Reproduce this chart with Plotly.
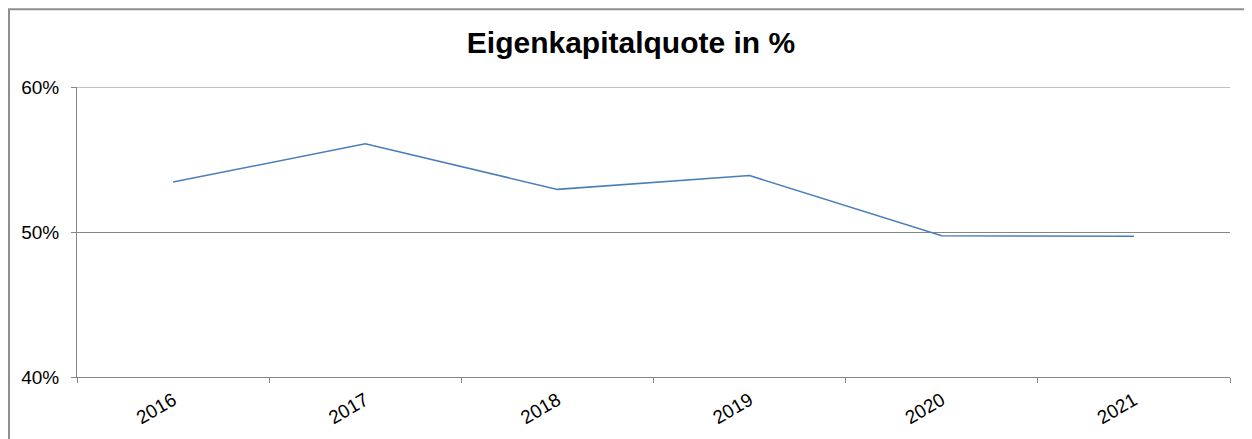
import plotly.graph_objects as go

years = ["2016", "2017", "2018", "2019", "2020", "2021"]
equity_ratio = [0.5345, 0.5608, 0.5294, 0.5389, 0.4974, 0.4971]
y_ticks = [0.40, 0.50, 0.60]
y_tick_labels = ["40%", "50%", "60%"]
title_text = "Eigenkapitalquote in %"

fig = go.Figure()
fig.add_trace(go.Scatter(
    x=years, y=equity_ratio, mode="lines",
    line=dict(color="#4A7EBB", width=1.5),
    showlegend=False,
))

# page body has an 8px margin, so the figure starts at (8, 8)
W, H = 1244, 431
ml, mr, mt, mb = 69, 22, 79, 61.5
pw = W - ml - mr
ph = H - mt - mb

fig.update_layout(
    width=W, height=H,
    margin=dict(l=ml, r=mr, t=mt, b=mb, pad=0),
    paper_bgcolor="white", plot_bgcolor="white",
    font=dict(family="Liberation Sans, Arial, sans-serif", color="#000000"),
    title=dict(text="<b>" + title_text + "</b>", x=623 / W, xref="container", xanchor="center",
               y=1 - 34 / H, yref="container", yanchor="middle",
               font=dict(size=30, family="Liberation Sans, Arial, sans-serif", color="#000000")),
    xaxis=dict(type="category", range=[-0.5, 5.5], showgrid=False,
               showline=True, linecolor="#868686", linewidth=1,
               ticks="outside", tickson="boundaries", ticklen=5, tickcolor="#868686",
               tickangle=-30, tickfont=dict(size=19), ticklabelstandoff=4,
               zeroline=False, fixedrange=True),
    yaxis=dict(range=[0.40, 0.60], tickvals=y_ticks, ticktext=y_tick_labels,
               showgrid=True, gridcolor="#868686", gridwidth=1,
               showline=True, linecolor="#868686", linewidth=1,
               ticks="outside", ticklen=5, tickcolor="#868686",
               tickfont=dict(size=19), ticklabelstandoff=8,
               zeroline=False, fixedrange=True),
    shapes=[
        dict(type="rect", xref="paper", yref="paper",
             x0=(1 - ml) / pw, x1=1.2, y0=-0.6, y1=(H - mb - 1) / ph,
             line=dict(color="#8F8F8F", width=2), fillcolor="rgba(0,0,0,0)", layer="below"),
        dict(type="line", xref="paper", yref="y", x0=0, x1=1,
             y0=y_ticks[-1], y1=y_ticks[-1],
             line=dict(color="#868686", width=1), layer="below"),
    ],
)

fig.write_html("out.html")
